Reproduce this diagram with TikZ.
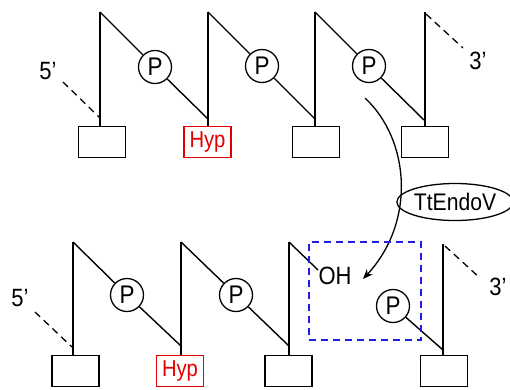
\documentclass[tikz,border=0pt]{standalone}
\usepackage{fontspec}
\setmainfont{Liberation Sans}
\newfontfamily\narrowsans[FakeStretch=0.88]{Liberation Sans}
\usetikzlibrary{arrows.meta,shapes.geometric}
\definecolor{hypred}{RGB}{228,0,0}
\definecolor{boxblue}{RGB}{30,30,230}
\begin{document}
\begin{tikzpicture}[x=1pt,y=-1pt,line width=1.4pt,
  base/.style={draw,minimum width=47pt,minimum height=31pt,inner sep=0pt,line width=1.6pt},
  hypbase/.style={base,draw=hypred,text=hypred,font=\narrowsans\fontsize{23}{23}\selectfont},
  phos/.style={circle,draw,minimum size=33pt,inner sep=0pt,line width=1.3pt,font=\narrowsans\fontsize{25.5}{25.5}\selectfont},
  endlab/.style={inner sep=0pt,font=\narrowsans\fontsize{25}{25}\selectfont},
  strandend/.style={line width=1.3pt,dash pattern=on 7pt off 5pt},
  site/.style={draw=boxblue,line width=1.4pt,dash pattern=on 7pt off 5pt,minimum width=112pt,minimum height=98pt,inner sep=0pt},
  enzyme/.style={ellipse,draw,line width=1.3pt,minimum width=106pt,minimum height=37pt,inner sep=0pt,font=\narrowsans\fontsize{24}{24}\selectfont}]
\useasboundingbox (0,0) rectangle (510,389);

% ---------- intact strand ----------
\coordinate (ta) at (100,12);
\coordinate (tb) at (208,12);
\coordinate (tc) at (315,12);
\coordinate (td) at (425,12);
\coordinate (fb) at (208,119);
\coordinate (fc) at (315,119);
\coordinate (fd) at (424,120);
\node[base] (ba) at (102,142) {};
\node[hypbase] (bb) at (207.5,142) {Hyp};
\node[base] (bc) at (316,142) {};
\node[base] (bd) at (425,142) {};
\node[phos] (pa) at (155,67) {P};
\node[phos] (pb) at (262,66) {P};
\node[phos] (pc) at (369,66) {P};

\draw (ta) -- (ta |- ba.north);
\draw (tb) -- (tb |- bb.north);
\draw (tc) -- (tc |- bc.north);
\draw (td) -- (td |- bd.north);
\draw (ta) -- (pa) -- (fb);
\draw (tb) -- (pb) -- (fc);
\draw (tc) -- (pc) -- (fd);

\node[endlab] (t5) at (48,71) {5’};
\node[endlab] (t3) at (478,61) {3’};
\coordinate (t5s) at (63,82);
\coordinate (t5e) at (100,118);
\coordinate (t3s) at (426,14);
\coordinate (t3e) at (463,48);
\draw[strandend] (t5s) -- (t5e);
\draw[strandend] (t3s) -- (t3e);

% ---------- enzyme and cleavage arrow ----------
\node[enzyme] (enz) at (455,202) {TtEndoV};
\coordinate (cs) at (365,98);
\coordinate (ce) at (363,279);
\draw[line width=1.3pt,-{Stealth[length=10pt,width=8pt]}]
  (cs) .. controls (410,140) and (416,222) .. (ce);

% ---------- nicked strand ----------
\coordinate (ua) at (73,242);
\coordinate (ub) at (181,242);
\coordinate (uc) at (289,242);
\coordinate (ud) at (443,244);
\coordinate (gb) at (181,346);
\coordinate (gc) at (289,346);
\coordinate (gd) at (443,350);
\coordinate (cut) at (318,270);
\node[base] (ca) at (75.5,371) {};
\node[hypbase] (cb) at (180,371) {Hyp};
\node[base] (cc) at (288.5,371) {};
\node[base] (cd) at (444,371) {};
\node[phos] (qa) at (127,295) {P};
\node[phos] (qb) at (236,295) {P};
\node[phos] (qd) at (393,306) {P};
\node[inner sep=0pt,font=\narrowsans\fontsize{25}{25}\selectfont] (oh) at (335,276) {OH};

\draw (ua) -- (ua |- ca.north);
\draw (ub) -- (ub |- cb.north);
\draw (uc) -- (uc |- cc.north);
\draw (ud) -- (ud |- cd.north);
\draw (ua) -- (qa) -- (gb);
\draw (ub) -- (qb) -- (gc);
\draw (uc) -- (cut);
\draw (qd) -- (gd);

\node[site] (nick) at (365,291) {};

\node[endlab] (u5) at (20,298) {5’};
\node[endlab] (u3) at (498,287) {3’};
\coordinate (u5s) at (35,312);
\coordinate (u5e) at (72,347);
\coordinate (u3s) at (445,246);
\coordinate (u3e) at (480,278);
\draw[strandend] (u5s) -- (u5e);
\draw[strandend] (u3s) -- (u3e);
\end{tikzpicture}
\end{document}
